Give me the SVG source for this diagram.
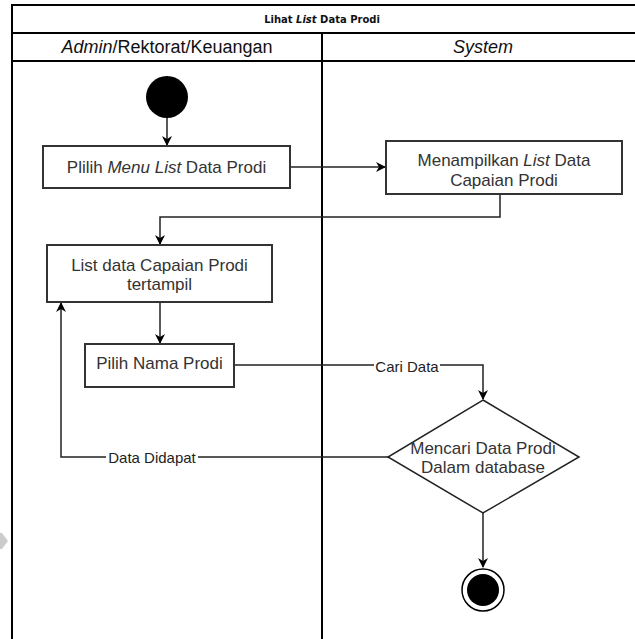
<svg xmlns="http://www.w3.org/2000/svg" width="635" height="639" viewBox="0 0 635 639">
  <defs>
    <marker id="arrow" viewBox="0 0 10 10" refX="9" refY="5" markerWidth="10" markerHeight="10" markerUnits="userSpaceOnUse" orient="auto">
      <path d="M0,0 L10,5 L0,10 L3,5 Z" fill="#000"/>
    </marker>
  </defs>
  <style>
    .lane { fill: none; stroke: #000; stroke-width: 2; }
    .box { fill: #fff; stroke: #333; stroke-width: 2; }
    .edge { fill: none; stroke: #222; stroke-width: 1.5; }
    .lbl { font-family: "Liberation Sans", Arial, sans-serif; font-size: 17px; fill: #333; text-anchor: middle; }
    .elbl { font-family: "Liberation Sans", Arial, sans-serif; font-size: 15px; fill: #222; text-anchor: middle; }
    .hdr { font-family: "Liberation Sans", Arial, sans-serif; font-size: 18px; fill: #111; text-anchor: middle; }
    .title { font-family: "DejaVu Sans", "Liberation Sans", sans-serif; font-size: 10px; font-weight: bold; fill: #111; text-anchor: middle; }
  </style>
  <rect width="635" height="639" fill="#fff"/>

  <!-- swimlane frame -->
  <g id="swimlanes">
    <path class="lane" d="M12,639 V5 H640 M12,33 H640 M12,61 H640 M322,33 V639"/>
    <text class="title" x="322" y="23">Lihat <tspan font-style="italic">List</tspan> Data Prodi</text>
    <text class="hdr" x="167" y="53"><tspan font-style="italic">Admin</tspan>/Rektorat/Keuangan</text>
    <text class="hdr" x="483" y="53" font-style="italic">System</text>
  </g>

  <!-- faint margin mark -->
  <polygon points="0,533 2,533 8,541 2,549 0,549" fill="#ccc"/>

  <!-- connectors -->
  <g id="connectors">
    <path class="edge" d="M167,118 V145" marker-end="url(#arrow)"/>
    <path class="edge" d="M290,167 H385" marker-end="url(#arrow)"/>
    <path class="edge" d="M500,194 V217 H160 V244" marker-end="url(#arrow)"/>
    <path class="edge" d="M160,302 V343" marker-end="url(#arrow)"/>
    <path class="edge" d="M234,365 H483 V399" marker-end="url(#arrow)"/>
    <path class="edge" d="M388,457 H61 V303" marker-end="url(#arrow)"/>
    <path class="edge" d="M483,513 V567" marker-end="url(#arrow)"/>
    <rect x="374" y="358" width="66" height="16" fill="#fff"/>
    <text class="elbl" x="407" y="372">Cari Data</text>
    <rect x="106" y="449" width="92" height="16" fill="#fff"/>
    <text class="elbl" x="152" y="463">Data Didapat</text>
  </g>

  <g id="start">
    <circle cx="167" cy="97" r="21" fill="#000"/>
  </g>

  <g id="pilih-menu">
    <rect class="box" x="43" y="146" width="247" height="42"/>
    <text class="lbl" x="166.5" y="173">Plilih <tspan font-style="italic">Menu List</tspan> Data Prodi</text>
  </g>

  <g id="menampilkan">
    <rect class="box" x="386" y="141" width="236" height="53"/>
    <text class="lbl" x="504" y="166">Menampilkan <tspan font-style="italic">List</tspan> Data</text>
    <text class="lbl" x="504" y="186">Capaian Prodi</text>
  </g>

  <g id="list-tampil">
    <rect class="box" x="47" y="245" width="225" height="57"/>
    <text class="lbl" x="159.5" y="271">List data Capaian Prodi</text>
    <text class="lbl" x="159.5" y="290">tertampil</text>
  </g>

  <g id="pilih-nama">
    <rect class="box" x="85" y="344" width="149" height="43"/>
    <text class="lbl" x="159.5" y="369">Pilih Nama Prodi</text>
  </g>

  <g id="mencari">
    <polygon points="483,400 579,457 483,513 388,457" fill="#fff" stroke="#222" stroke-width="1.5"/>
    <text class="lbl" x="483" y="454">Mencari Data Prodi</text>
    <text class="lbl" x="483" y="473">Dalam database</text>
  </g>

  <g id="end">
    <circle cx="483" cy="590" r="21" fill="#fff" stroke="#000" stroke-width="1.5"/>
    <circle cx="483" cy="590" r="16" fill="#000"/>
  </g>
</svg>
